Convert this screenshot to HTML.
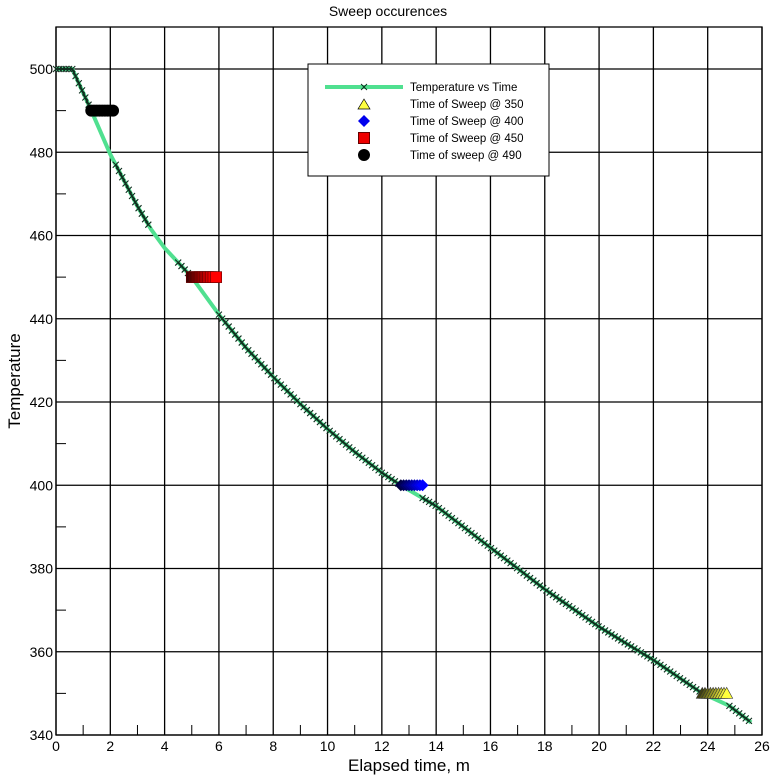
<!DOCTYPE html>
<html><head><meta charset="utf-8"><style>
body{margin:0;background:#fff;font-family:"Liberation Sans",sans-serif}
svg text{font-family:"Liberation Sans",sans-serif}
</style></head><body>
<svg id="c" width="776" height="776" xmlns="http://www.w3.org/2000/svg"></svg>
<script>
const times=[0,0.6,1.3,2,3,3.5,4,5,6,7,8,9,10,11,12,12.7,14,16,18,20,22,23.8,24.8,25.6];
const temps=[500,500,490,479.5,467,461.5,457,450,441,433,426,419.5,413.5,408,403,400,395,385,375,366,358,350,347,343];
const crossRanges=[[0,1.3],[2.2,3.5],[4.5,5.0],[6.0,12.7],[13.5,23.8],[24.8,25.6]];
const sweep490=[1.3,1.4,1.5,1.6,1.7,1.8,1.9,2.0,2.1];
const sweep450=[5.0,5.1,5.2,5.3,5.4,5.5,5.6,5.7,5.8,5.9];
const sweep400=[12.7,12.8,12.9,13.0,13.1,13.2,13.3,13.4,13.5];
const sweep350=[23.8,23.9,24.0,24.1,24.2,24.3,24.4,24.5,24.6,24.7];
const xTicks=[0,2,4,6,8,10,12,14,16,18,20,22,24,26];
const yTicks=[340,360,380,400,420,440,460,480,500];
const NS="http://www.w3.org/2000/svg",svg=document.getElementById('c');
const L=56,R=762,T=27,B=735;
const X=t=>L+t*(R-L)/26, Y=v=>69+(500-v)*(B-69)/160;
function el(n,a,p){const e=document.createElementNS(NS,n);for(const k in a)e.setAttribute(k,a[k]);(p||svg).appendChild(e);return e;}
function interp(t){for(let i=1;i<times.length;i++)if(t<=times[i]){const f=(t-times[i-1])/(times[i]-times[i-1]);return temps[i-1]+f*(temps[i]-temps[i-1]);}return temps[temps.length-1];}
// grid
xTicks.forEach(t=>{const l=el('line',{x1:X(t),x2:X(t),y1:T,y2:B,stroke:'#000','stroke-width':1.3});

const tx=el('text',{x:X(t),y:B+16,'text-anchor':'middle','font-size':14});tx.textContent=t;
});
for(let t=1;t<26;t+=2){const m=el('line',{x1:X(t),x2:X(t),y1:B-10,y2:B,stroke:'#000'});}
yTicks.forEach(v=>{const l=el('line',{x1:L,x2:R,y1:Y(v),y2:Y(v),stroke:'#000','stroke-width':1.3});

const tx=el('text',{x:L-3,y:Y(v)+5,'text-anchor':'end','font-size':14});tx.textContent=v;
});
for(let v=350;v<510;v+=20){const m=el('line',{x1:L,x2:L+10,y1:Y(v),y2:Y(v),stroke:'#000'});}
const fr=el('rect',{x:L,y:T,width:R-L,height:B-T,fill:'none',stroke:'#000','stroke-width':1.3});

// series line
const line=el('polyline',{points:times.map((t,i)=>X(t)+','+Y(temps[i])).join(' '),fill:'none',stroke:'#50e090','stroke-width':4});

const cg=el('g',{stroke:'#103020','stroke-width':1.1});

crossRanges.forEach(r=>{let d='';for(let t=r[0];t<=r[1]+1e-6;t+=0.12){const x=X(t),y=Y(interp(t));d+=`M${x-3},${y-3}L${x+3},${y+3}M${x-3},${y+3}L${x+3},${y-3}`;}
const p=el('path',{d:d},cg);
const pl=el('path',{d:(()=>{let s='';for(let t=r[0];t<=r[1]+1e-6;t+=0.12)s+=(s?'L':'M')+X(t)+','+Y(interp(t));return s;})(),fill:'none','stroke-width':2},cg);
});
function shade(i,n,c){const f=0.25+0.75*(i/(n-1));return `rgb(${Math.round(c[0]*f)},${Math.round(c[1]*f)},${Math.round(c[2]*f)})`;}
function sweep(arr,v,kind,col,name){arr.forEach((t,i)=>{const x=X(t),y=Y(v),c=shade(i,arr.length,col);let m;
if(kind==='circle')m=el('circle',{cx:x,cy:y,r:6,fill:'#000'});
else if(kind==='square')m=el('rect',{x:x-5.5,y:y-5.5,width:11,height:11,fill:c,stroke:'#600','stroke-width':0.6});
else if(kind==='diamond')m=el('path',{d:`M${x},${y-6}L${x+6},${y}L${x},${y+6}L${x-6},${y}Z`,fill:c});
else m=el('path',{d:`M${x},${y-6}L${x+6},${y+5}L${x-6},${y+5}Z`,fill:c,stroke:'#333','stroke-width':0.6});
});}
sweep(sweep490,490,'circle',[0,0,0],'sweep-490-marker');
sweep(sweep450,450,'square',[255,0,0],'sweep-450-marker');
sweep(sweep400,400,'diamond',[0,0,255],'sweep-400-marker');
sweep(sweep350,350,'triangle',[255,255,60],'sweep-350-marker');
</script>
<svg width="776" height="776" style="position:absolute;left:0;top:0">
<text x="388" y="16" text-anchor="middle" font-size="14">Sweep occurences</text>
<text x="409" y="771" text-anchor="middle" font-size="17">Elapsed time, m</text>
<text x="20" y="381" text-anchor="middle" font-size="17" transform="rotate(-90 20 381)">Temperature</text>
<g font-size="11.5">
<rect x="308" y="64" width="241" height="112" fill="#fff" stroke="#000"/>
<line x1="325" x2="403" y1="87" y2="87" stroke="#50e090" stroke-width="4"/>
<path d="M361,84L367,90M361,90L367,84" stroke="#103020"/>
<text x="410" y="91">Temperature vs Time</text>
<path d="M364,99L370,109L358,109Z" fill="#ffff40" stroke="#000" stroke-width="0.7"/>
<text x="410" y="108">Time of Sweep @ 350</text>
<path d="M364,115L370,121L364,127L358,121Z" fill="#0000ee"/>
<text x="410" y="125">Time of Sweep @ 400</text>
<rect x="358.5" y="132.5" width="11" height="11" fill="#ee0000" stroke="#600"/>
<text x="410" y="142">Time of Sweep @ 450</text>
<circle cx="364" cy="155" r="6" fill="#000"/>
<text x="410" y="159">Time of sweep @ 490</text>
</g></svg>
</body></html>
